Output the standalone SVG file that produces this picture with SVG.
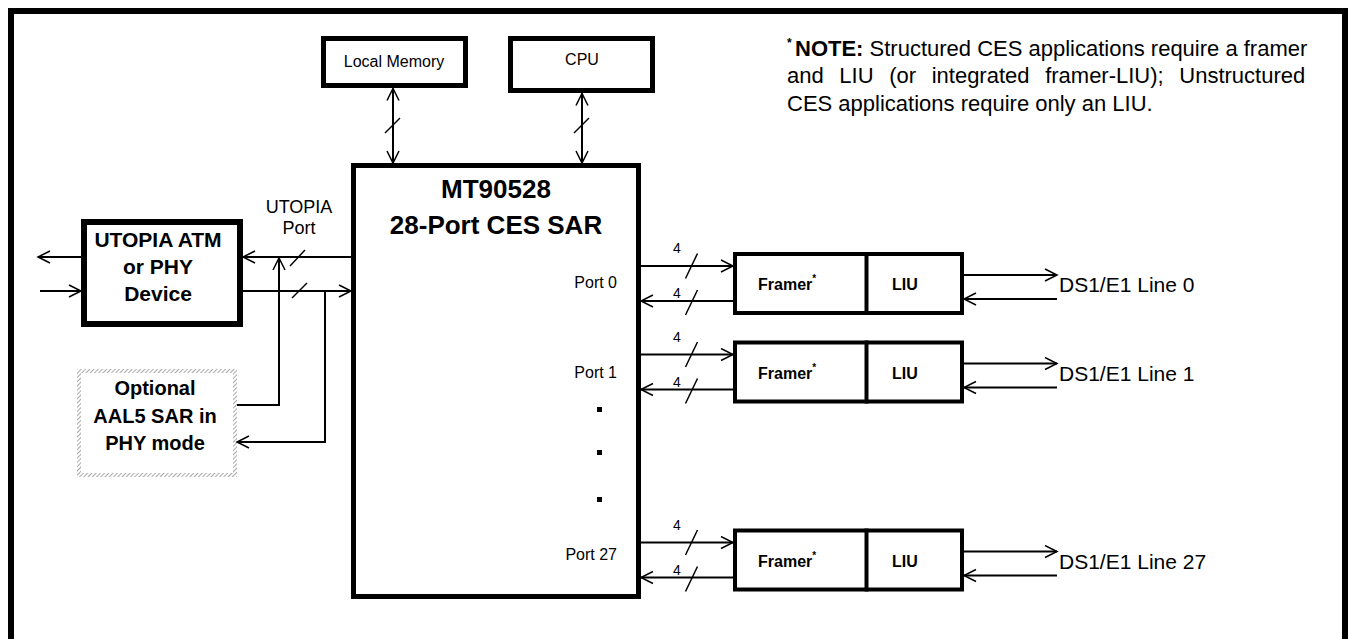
<svg xmlns="http://www.w3.org/2000/svg" width="1348" height="639" viewBox="0 0 1348 639">
<defs>
<marker id="ah" markerUnits="userSpaceOnUse" markerWidth="16" markerHeight="16" refX="13" refY="7" orient="auto-start-reverse" viewBox="0 0 16 16">
<path d="M1,1 L13,7 L1,13" fill="none" stroke="#000" stroke-width="1.5"/>
</marker>
<pattern id="hatch" patternUnits="userSpaceOnUse" width="3" height="3" patternTransform="rotate(45)">
<rect width="3" height="3" fill="#fff"/>
<line x1="0" y1="0" x2="0" y2="3" stroke="#8a8a8a" stroke-width="1.5"/>
</pattern>
</defs>
<style>
.box{fill:#fff;stroke:#000;}
.ln{stroke:#000;stroke-width:2;fill:none;}
.sl{stroke:#000;stroke-width:1.5;}
.t{font-family:"Liberation Sans",Arial,sans-serif;fill:#000;}
.b{font-weight:bold;}
.m{text-anchor:middle;}
</style>
<rect width="1348" height="639" fill="#fff"/>
<path d="M11,639 V11 H1345 V639" fill="none" stroke="#000" stroke-width="6"/>

<g id="note">
<text class="t" x="787" y="56" font-size="22"><tspan class="b" font-size="12" dy="-9">*</tspan><tspan class="b" x="795" dy="9">NOTE:</tspan> Structured CES applications require a framer</text>
<text class="t" x="787" y="83" font-size="22" word-spacing="9.5">and LIU (or integrated framer-LIU); Unstructured</text>
<text class="t" x="787" y="111" font-size="22">CES applications require only an LIU.</text>
</g>

<g id="local-memory">
<rect class="box" x="323.5" y="38.5" width="142" height="47" stroke-width="5"/>
<text class="t m" x="394" y="67" font-size="16">Local Memory</text>
</g>
<g id="cpu">
<rect class="box" x="510.5" y="38.5" width="142" height="52" stroke-width="5"/>
<text class="t m" x="582" y="65" font-size="16">CPU</text>
</g>

<g id="sar">
<rect class="box" x="353.5" y="165.5" width="285" height="431" stroke-width="5"/>
<text class="t b m" x="496" y="198" font-size="26">MT90528</text>
<text class="t b m" x="496" y="234" font-size="26">28-Port CES SAR</text>
<text class="t" x="617" y="288" font-size="16" text-anchor="end">Port 0</text>
<text class="t" x="617" y="378" font-size="16" text-anchor="end">Port 1</text>
<text class="t" x="617" y="560" font-size="16" text-anchor="end">Port 27</text>
<rect x="597" y="407" width="5" height="5" fill="#000"/>
<rect x="597" y="450" width="5" height="5" fill="#000"/>
<rect x="597" y="497" width="5" height="5" fill="#000"/>
</g>

<g id="utopia-atm">
<rect class="box" x="84" y="222" width="156" height="102" stroke-width="6"/>
<text class="t b m" x="158" y="247" font-size="21">UTOPIA ATM</text>
<text class="t b m" x="158" y="274" font-size="21">or PHY</text>
<text class="t b m" x="158" y="301" font-size="21">Device</text>
</g>

<g id="optional-sar">
<rect x="79" y="371" width="156" height="104" fill="#fff" stroke="url(#hatch)" stroke-width="4"/>
<text class="t b m" x="155" y="395" font-size="20">Optional</text>
<text class="t b m" x="155" y="423" font-size="20">AAL5 SAR in</text>
<text class="t b m" x="155" y="450" font-size="20">PHY mode</text>
</g>

<g id="utopia-port-label">
<text class="t m" x="299" y="212.5" font-size="18">UTOPIA</text>
<text class="t m" x="299" y="233.5" font-size="18">Port</text>
</g>

<g id="channel-0">
<rect class="box" x="735" y="254" width="227" height="59" stroke-width="4"/>
<line x1="866.5" y1="252" x2="866.5" y2="315" stroke="#000" stroke-width="4"/>
<text class="t b" x="758" y="290" font-size="16">Framer<tspan font-size="10" dy="-8">*</tspan></text>
<text class="t b" x="892" y="290" font-size="16">LIU</text>
<text class="t" x="1059" y="292" font-size="21">DS1/E1 Line 0</text>
</g>
<g id="channel-1">
<rect class="box" x="735" y="342.5" width="227" height="59" stroke-width="4"/>
<line x1="866.5" y1="340.5" x2="866.5" y2="403.5" stroke="#000" stroke-width="4"/>
<text class="t b" x="758" y="378.5" font-size="16">Framer<tspan font-size="10" dy="-8">*</tspan></text>
<text class="t b" x="892" y="378.5" font-size="16">LIU</text>
<text class="t" x="1059" y="380.5" font-size="21">DS1/E1 Line 1</text>
</g>
<g id="channel-27">
<rect class="box" x="735" y="530.5" width="227" height="59" stroke-width="4"/>
<line x1="866.5" y1="528.5" x2="866.5" y2="591.5" stroke="#000" stroke-width="4"/>
<text class="t b" x="758" y="566.5" font-size="16">Framer<tspan font-size="10" dy="-8">*</tspan></text>
<text class="t b" x="892" y="566.5" font-size="16">LIU</text>
<text class="t" x="1059" y="568.5" font-size="21">DS1/E1 Line 27</text>
</g>

<g id="connectors">
<line class="ln" x1="393" y1="88.5" x2="393" y2="163" marker-start="url(#ah)" marker-end="url(#ah)"/>
<line class="sl" x1="385" y1="133" x2="400" y2="118"/>
<line class="ln" x1="582" y1="93.5" x2="582" y2="163" marker-start="url(#ah)" marker-end="url(#ah)"/>
<line class="sl" x1="574" y1="133" x2="589" y2="118"/>
<line class="ln" x1="81" y1="257" x2="38" y2="257" marker-end="url(#ah)"/>
<line class="ln" x1="40" y1="291" x2="81" y2="291" marker-end="url(#ah)"/>
<line class="ln" x1="351" y1="257" x2="243" y2="257" marker-end="url(#ah)"/>
<line class="ln" x1="243" y1="291" x2="351" y2="291" marker-end="url(#ah)"/>
<line class="sl" x1="290" y1="266" x2="305" y2="250"/>
<line class="sl" x1="292" y1="298" x2="307" y2="283"/>
<path class="ln" d="M237,405 H279 V258" marker-end="url(#ah)"/>
<path class="ln" d="M325,291 V442 H237" marker-end="url(#ah)"/>
<line class="ln" x1="641" y1="266" x2="733" y2="266" marker-end="url(#ah)"/>
<line class="ln" x1="733" y1="301" x2="641" y2="301" marker-end="url(#ah)"/>
<line class="sl" x1="685.5" y1="278.5" x2="697.5" y2="253.5"/>
<line class="sl" x1="685.5" y1="315" x2="697.5" y2="290"/>
<text class="t" x="673" y="253" font-size="14">4</text>
<text class="t" x="673" y="298" font-size="14">4</text>
<line class="ln" x1="964" y1="275" x2="1057" y2="275" marker-end="url(#ah)"/>
<line class="ln" x1="1057" y1="299" x2="964" y2="299" marker-end="url(#ah)"/>
<line class="ln" x1="641" y1="354.5" x2="733" y2="354.5" marker-end="url(#ah)"/>
<line class="ln" x1="733" y1="389.5" x2="641" y2="389.5" marker-end="url(#ah)"/>
<line class="sl" x1="685.5" y1="367" x2="697.5" y2="342"/>
<line class="sl" x1="685.5" y1="403.5" x2="697.5" y2="378.5"/>
<text class="t" x="673" y="341.5" font-size="14">4</text>
<text class="t" x="673" y="386.5" font-size="14">4</text>
<line class="ln" x1="964" y1="363.5" x2="1057" y2="363.5" marker-end="url(#ah)"/>
<line class="ln" x1="1057" y1="387.5" x2="964" y2="387.5" marker-end="url(#ah)"/>
<line class="ln" x1="641" y1="542.5" x2="733" y2="542.5" marker-end="url(#ah)"/>
<line class="ln" x1="733" y1="577.5" x2="641" y2="577.5" marker-end="url(#ah)"/>
<line class="sl" x1="685.5" y1="555" x2="697.5" y2="530"/>
<line class="sl" x1="685.5" y1="591.5" x2="697.5" y2="566.5"/>
<text class="t" x="673" y="529.5" font-size="14">4</text>
<text class="t" x="673" y="574.5" font-size="14">4</text>
<line class="ln" x1="964" y1="551.5" x2="1057" y2="551.5" marker-end="url(#ah)"/>
<line class="ln" x1="1057" y1="575.5" x2="964" y2="575.5" marker-end="url(#ah)"/>
</g>
</svg>
